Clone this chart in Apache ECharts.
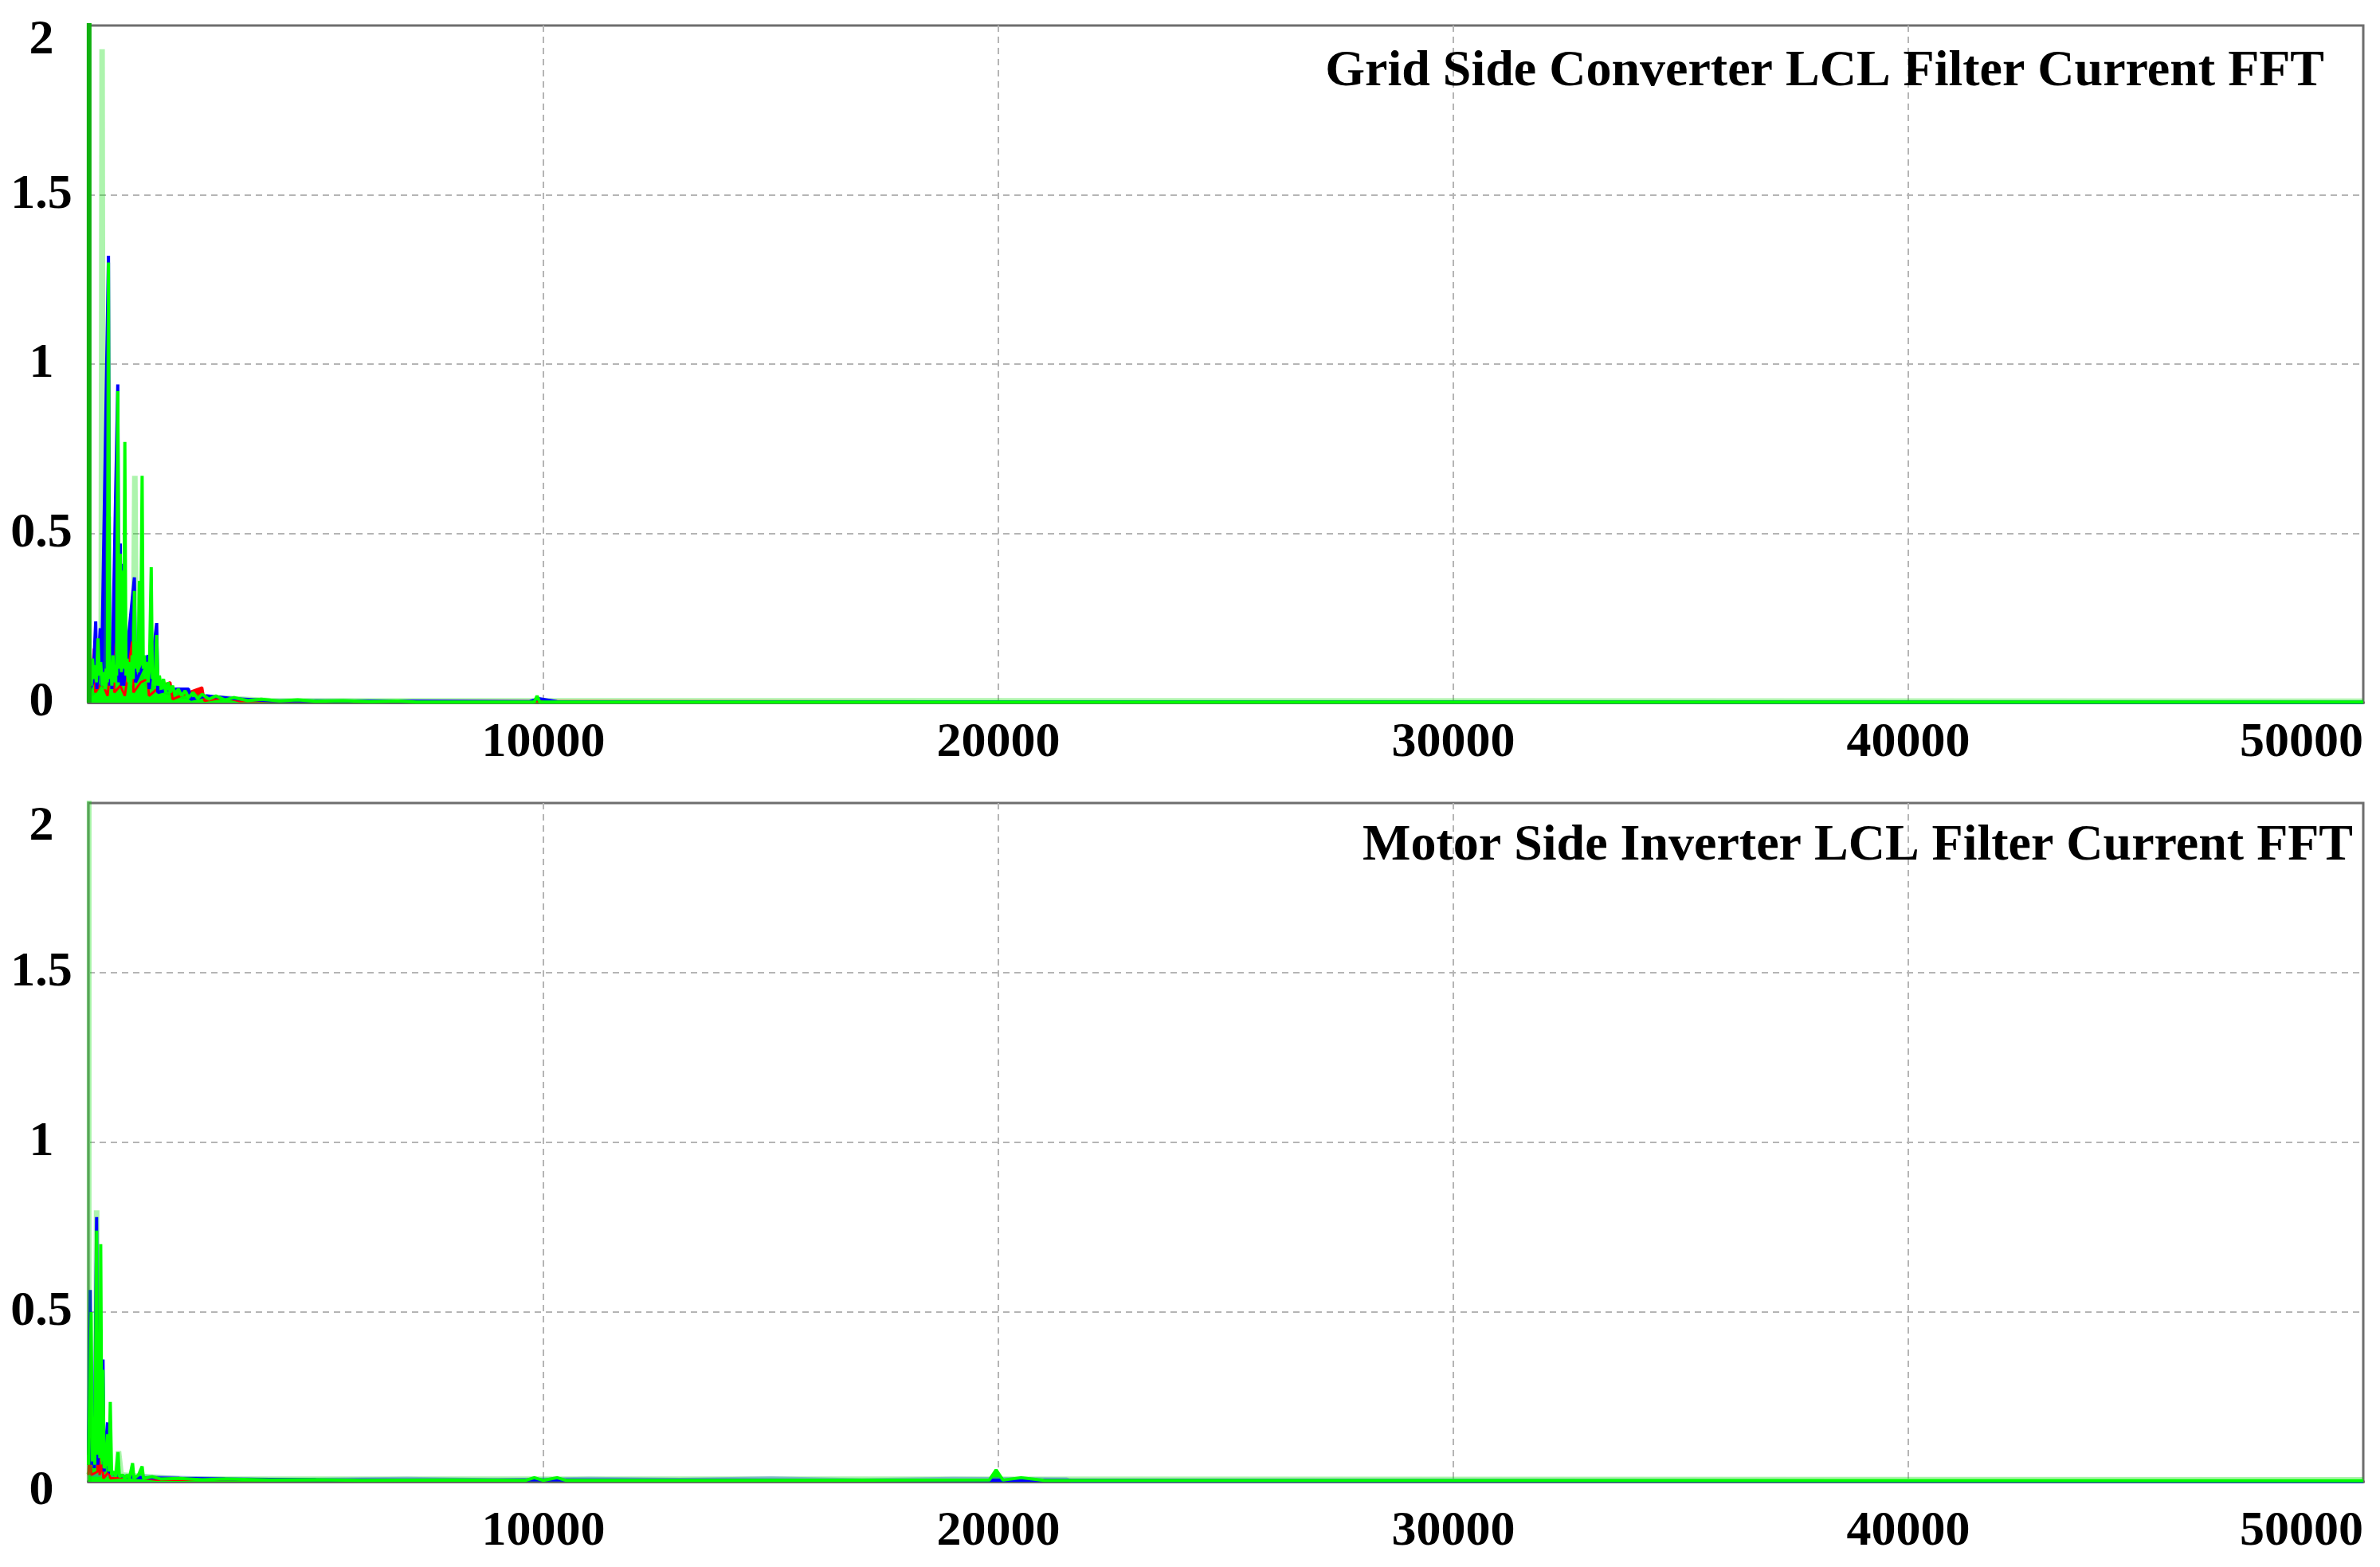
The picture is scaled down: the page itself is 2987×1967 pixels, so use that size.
<!DOCTYPE html>
<html lang="en">
<head>
    <meta charset="UTF-8">
    <title>LCL Filter Current FFT</title>
    <script src="https://cdn.jsdelivr.net/npm/echarts@6/dist/echarts.min.js"></script>
    <style>
        html, body { margin: 0; padding: 0; background: #fff; }
        #main { width: 2987px; height: 1967px; }
    </style>
</head>
<body>
<div id="main"></div>
<script type="text/javascript">
    // x: frequency (Hz), y: amplitude
    var xTicks = [0, 10000, 20000, 30000, 40000, 50000];
    var yTicks = [0, 0.5, 1, 1.5, 2];

    // grid side converter spectrum, per phase
    var gridEdge = [[15, 0], [15, 2.5]];
    var gridLime = [[0, 0.02], [280, 0.05], [300, 1.93], [320, 0.05], [420, 0.1], [440, 0.55], [460, 0.08],
        [990, 0.1], [1020, 0.67], [1050, 0.1], [1300, 0.05], [2000, 0.02], [4000, 0.006], [50000, 0.004]];
    var gridRed = [[0, 0.02], [60, 0.05], [120, 0.16], [150, 0.03], [300, 0.06], [420, 0.02], [540, 0.175], [570, 0.03],
        [700, 0.05], [800, 0.02], [960, 0.18], [990, 0.03], [1150, 0.06], [1300, 0.07], [1330, 0.02], [1600, 0.05],
        [1800, 0.06], [1850, 0.01], [2200, 0.03], [2500, 0.045], [2550, 0.005], [3000, 0.015], [3300, 0.005], [50000, 0.001]];
    var gridBlue = [[0, 0.03], [100, 0.06], [160, 0.24], [185, 0.04], [260, 0.22], [285, 0.05], [440, 1.32], [465, 0.05],
        [490, 0.15], [515, 0.04], [645, 0.94], [670, 0.06], [700, 0.47], [725, 0.05], [750, 0.41], [775, 0.05],
        [1010, 0.37], [1035, 0.06], [1310, 0.14], [1335, 0.04], [1500, 0.235], [1525, 0.03], [1800, 0.04], [2200, 0.04],
        [2250, 0.01], [2600, 0.02], [3200, 0.012], [4000, 0.006], [9700, 0.003], [9900, 0.012], [10300, 0.003], [50000, 0.001]];
    var gridGreen = [[0, 0.04], [30, 0.1], [60, 0.05], [90, 0.13], [120, 0.07], [150, 0.11], [175, 0.06], [210, 0.19],
        [240, 0.08], [270, 0.12], [300, 0.05], [330, 0.09], [360, 0.04], [390, 0.1], [415, 0.06], [440, 1.3],
        [465, 0.07], [490, 0.12], [515, 0.05], [540, 0.14], [565, 0.06], [590, 0.11], [620, 0.08], [645, 0.92],
        [670, 0.1], [700, 0.44], [725, 0.09], [750, 0.39], [775, 0.1], [800, 0.77], [825, 0.08], [850, 0.13],
        [875, 0.06], [900, 0.12], [930, 0.05], [960, 0.14], [985, 0.07], [1010, 0.33], [1035, 0.1], [1060, 0.18],
        [1090, 0.09], [1120, 0.36], [1145, 0.12], [1180, 0.67], [1205, 0.1], [1230, 0.14], [1255, 0.07], [1280, 0.12],
        [1310, 0.06], [1340, 0.1], [1380, 0.4], [1405, 0.07], [1430, 0.09], [1460, 0.05], [1500, 0.2], [1530, 0.05],
        [1560, 0.08], [1600, 0.04], [1650, 0.07], [1700, 0.03], [1750, 0.06], [1800, 0.03], [1850, 0.05], [1900, 0.025],
        [1975, 0.04], [2050, 0.02], [2125, 0.035], [2200, 0.015], [2300, 0.03], [2400, 0.012], [2500, 0.025],
        [2650, 0.01], [2800, 0.02], [3000, 0.008], [3200, 0.015], [3500, 0.006], [3800, 0.01], [4200, 0.005],
        [4600, 0.008], [5000, 0.004], [5600, 0.006], [6200, 0.003], [6800, 0.005], [7200, 0.002], [9800, 0.002],
        [9860, 0.02], [9920, 0.002], [50000, 0.002]];

    // motor side inverter spectrum, per phase
    var motorEdge = [[15, 0], [15, 2.5]];
    var motorLime = [[0, 0.02], [160, 0.05], [180, 0.8], [200, 0.05], [620, 0.02], [660, 0.09], [720, 0.02],
        [2000, 0.008], [50000, 0.006]];
    var motorLightBlue = [[0, 0.09], [40, 0.02], [4000, 0.006], [7000, 0.01], [9000, 0.006], [11000, 0.01],
        [13000, 0.007], [15000, 0.011], [17000, 0.006], [19000, 0.01], [21500, 0.008], [21600, 0.002], [50000, 0.002]];
    var motorRed = [[0, 0.02], [30, 0.1], [60, 0.02], [200, 0.03], [220, 0.43], [245, 0.02], [300, 0.05],
        [330, 0.01], [450, 0.03], [480, 0.01], [900, 0.015], [1500, 0.006], [50000, 0.001]];
    var motorBlue = [[0, 0.08], [40, 0.565], [65, 0.05], [100, 0.17], [130, 0.04], [180, 0.78], [205, 0.05],
        [320, 0.36], [345, 0.03], [420, 0.175], [445, 0.03], [600, 0.02], [800, 0.015], [1200, 0.012], [2000, 0.01],
        [3000, 0.008], [5000, 0.006], [50000, 0.001]];
    var motorGreen = [[0, 0.05], [60, 0.5], [85, 0.06], [110, 0.12], [140, 0.05], [180, 0.74], [205, 0.08],
        [225, 0.42], [250, 0.07], [270, 0.7], [295, 0.06], [320, 0.33], [345, 0.04], [380, 0.05], [420, 0.14],
        [450, 0.03], [480, 0.235], [510, 0.02], [560, 0.03], [600, 0.015], [650, 0.087], [680, 0.015], [750, 0.02],
        [800, 0.01], [850, 0.02], [900, 0.01], [970, 0.055], [1000, 0.01], [1100, 0.02], [1180, 0.045], [1210, 0.01],
        [1400, 0.015], [1600, 0.008], [2000, 0.01], [2500, 0.006], [3000, 0.008], [4000, 0.005], [5000, 0.006],
        [6000, 0.004], [8000, 0.005], [9600, 0.004], [9800, 0.012], [10000, 0.004], [10300, 0.012], [10500, 0.004],
        [14000, 0.004], [19800, 0.005], [19950, 0.035], [20100, 0.005], [20500, 0.012], [21000, 0.004], [50000, 0.003]];

    var titles = ['Grid Side Converter LCL Filter Current FFT', 'Motor Side Inverter LCL Filter Current FFT'];

    var myChart = echarts.init(document.getElementById('main'));
    var font = 'Liberation Serif';
    var labelFont = { fontFamily: font, fontWeight: 'bold', fontSize: 62, color: '#000' };

    function xAxisFor(idx, margin) {
        return {
            type: 'value', gridIndex: idx,
            min: xTicks[0], max: xTicks[xTicks.length - 1], interval: xTicks[1] - xTicks[0],
            axisLine: { show: true, onZero: false, lineStyle: { color: '#666', width: 4 } },
            axisTick: { show: false },
            axisLabel: Object.assign({
                showMinLabel: false, alignMaxLabel: 'right', margin: margin,
                formatter: function (v) { return String(v); }
            }, labelFont),
            splitLine: { show: true, showMinLine: false, showMaxLine: false,
                lineStyle: { color: '#b5b5b5', width: 2, type: [8, 6] } }
        };
    }
    // topPad / lowPad nudge the end labels down like in the source plot
    function yAxisFor(idx, topPad, lowPad) {
        return {
            type: 'value', gridIndex: idx,
            min: yTicks[0], max: yTicks[yTicks.length - 1], interval: yTicks[1] - yTicks[0],
            axisLine: { show: true, lineStyle: { color: '#888', width: 2 } },
            axisTick: { show: false },
            axisLabel: Object.assign({
                align: 'center', margin: 59,
                formatter: function (v) {
                    if (v === yTicks[yTicks.length - 1]) return '{hi|' + v + '}';
                    if (v === yTicks[0]) return '{lo|' + v + '}';
                    return String(v);
                },
                rich: {
                    hi: Object.assign({ padding: [topPad, 0, 0, 0] }, labelFont),
                    lo: Object.assign({ padding: [lowPad, 0, 0, 0] }, labelFont)
                }
            }, labelFont),
            splitLine: { show: true, showMinLine: false, showMaxLine: false,
                lineStyle: { color: '#b5b5b5', width: 2, type: [8, 6] } }
        };
    }
    function spec(idx, data, color, width, fill) {
        var s = {
            type: 'line', xAxisIndex: idx, yAxisIndex: idx, data: data,
            showSymbol: false, symbol: 'none', silent: true,
            lineStyle: { color: color, width: width || 3 }
        };
        if (fill) s.areaStyle = { color: color, opacity: 1 };
        return s;
    }

    var option = {
        animation: false,
        backgroundColor: '#fff',
        title: [
            { text: titles[0], right: 70, top: 58, padding: 0,
              textStyle: { fontFamily: font, fontWeight: 'bold', fontSize: 64, color: '#000' } },
            { text: titles[1], right: 34, top: 1030, padding: 0,
              textStyle: { fontFamily: font, fontWeight: 'bold', fontSize: 64, color: '#000' } }
        ],
        grid: [
            { left: 111, right: 21, top: 32, height: 850, show: true, borderColor: '#6e6e6e', borderWidth: 3 },
            { left: 111, right: 21, top: 1008, height: 852, show: true, borderColor: '#6e6e6e', borderWidth: 3 }
        ],
        xAxis: [xAxisFor(0, 20), xAxisFor(1, 32)],
        yAxis: [yAxisFor(0, 38, 0), yAxisFor(1, 60, 24)],
        series: [
            spec(0, gridLime, 'rgba(0,220,0,0.32)', 7),
            spec(0, gridRed, '#ff0000', 3, true),
            spec(0, gridBlue, '#0000ff', 4, true),
            spec(0, gridGreen, '#00ff00', 4, true),
            spec(0, gridEdge, '#10b010', 6),
            spec(1, motorLime, 'rgba(0,220,0,0.32)', 7),
            spec(1, motorLightBlue, 'rgba(70,110,230,0.45)', 4),
            spec(1, motorRed, '#ff0000', 3, true),
            spec(1, motorBlue, '#0000ff', 4, true),
            spec(1, motorGreen, '#00ff00', 4, true),
            spec(1, motorEdge, 'rgba(0,220,0,0.35)', 6)
        ]
    };
    myChart.setOption(option);
</script>
</body>
</html>
